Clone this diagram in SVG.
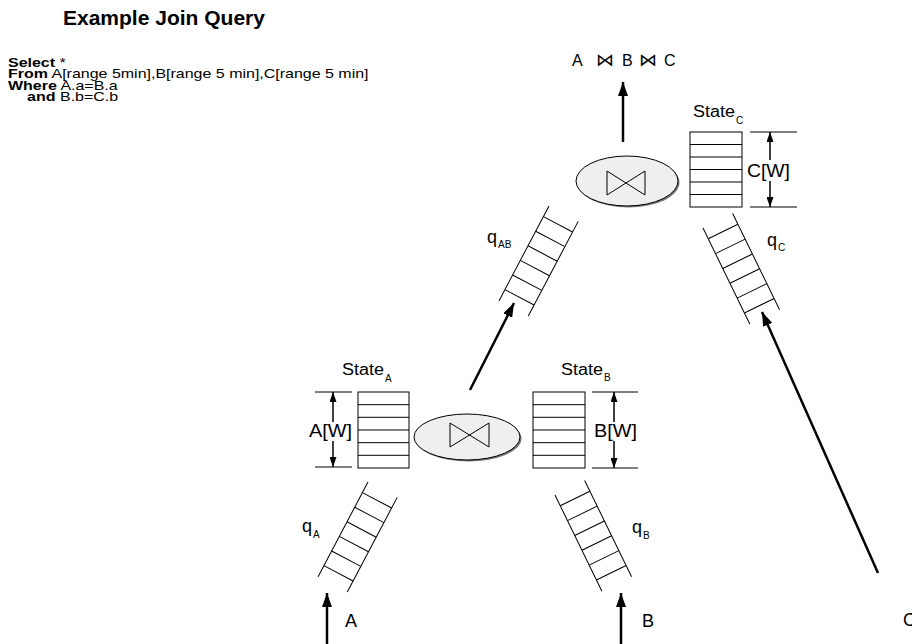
<svg xmlns="http://www.w3.org/2000/svg" width="912" height="644" viewBox="0 0 912 644">
<style>
text{font-family:"Liberation Sans",Arial,sans-serif;fill:#000}
.title{font-size:21px;font-weight:bold}
.q{font-size:12.8px}
.b{font-weight:bold}
.lbl{font-size:16px}
.big{font-size:18px}
.sub{font-size:10px}
.jn{font-family:"DejaVu Sans",sans-serif;font-size:18px}
.rail{stroke:#000;stroke-width:1;fill:none}
.stack{fill:#fff;stroke:#000;stroke-width:1}
.op{fill:#efefef;stroke:#000;stroke-width:1}
.shadow{fill:#777;stroke:none}
.bow{fill:none;stroke:#000;stroke-width:1}
.arr{stroke:#000;stroke-width:2.5;fill:none;marker-end:url(#ah)}
.sarr{stroke:#000;stroke-width:1.5;fill:none;marker-end:url(#sah)}
.brk{stroke:#000;stroke-width:1}
</style>
<defs>
<marker id="ah" markerUnits="userSpaceOnUse" markerWidth="14" markerHeight="10" refX="14" refY="5" orient="auto" viewBox="0 0 14 10">
<path d="M0,0 L14,5 L0,10 Z" fill="#000"/>
</marker>
<marker id="sah" markerUnits="userSpaceOnUse" markerWidth="10" markerHeight="7" refX="10" refY="3.5" orient="auto" viewBox="0 0 10 7">
<path d="M0,0 L10,3.5 L0,7 Z" fill="#000"/>
</marker>
<g id="ladder">
<line class="rail" x1="0" y1="0" x2="0" y2="107"/>
<line class="rail" x1="33" y1="0" x2="33" y2="107"/>
<line class="rail" x1="0" y1="12" x2="33" y2="12"/>
<line class="rail" x1="0" y1="28.5" x2="33" y2="28.5"/>
<line class="rail" x1="0" y1="45" x2="33" y2="45"/>
<line class="rail" x1="0" y1="61.5" x2="33" y2="61.5"/>
<line class="rail" x1="0" y1="78" x2="33" y2="78"/>
<line class="rail" x1="0" y1="94.5" x2="33" y2="94.5"/>
</g>
</defs>

<g id="title"><text class="title" x="63" y="25">Example Join Query</text></g>

<g id="query" transform="translate(8,0) scale(1.25,1)">
<text class="q" x="0" y="67"><tspan class="b">Select</tspan> *</text>
<text class="q" x="0" y="78.5"><tspan class="b">From</tspan> A[range 5min],B[range 5 min],C[range 5 min]</text>
<text class="q" x="0" y="90"><tspan class="b">Where</tspan> A.a=B.a</text>
<text class="q" x="15.2" y="101.5"><tspan class="b">and</tspan></text>
<text class="q" x="41.6" y="101.5">B.b=C.b</text>
</g>

<g id="result">
<text class="lbl" x="572" y="66">A</text>
<text class="jn" x="596" y="66">⋈</text>
<text class="lbl" x="622" y="66">B</text>
<text class="jn" x="639" y="66">⋈</text>
<text class="lbl" x="664" y="66">C</text>
</g>

<g id="join-top">
<ellipse class="shadow" cx="628.5" cy="182.5" rx="51" ry="25"/>
<ellipse class="op" cx="627" cy="181" rx="51" ry="25"/>
<path class="bow" d="M607,171 L645,195 L645,171 L607,195 Z"/>
</g>

<g id="join-bottom">
<ellipse class="shadow" cx="468.5" cy="438.5" rx="53" ry="23"/>
<ellipse class="op" cx="467" cy="437" rx="53" ry="23"/>
<path class="bow" d="M450,423 L489,447 L489,423 L450,447 Z"/>
</g>

<g id="state-c">
<rect class="stack" x="690" y="132" width="52" height="75"/>
<path class="brk" d="M690,144.5H742M690,157H742M690,169.5H742M690,182H742M690,194.5H742"/>
<text class="lbl" x="693" y="117" textLength="42" lengthAdjust="spacingAndGlyphs">State</text>
<text class="sub" x="736" y="124">C</text>
<path class="brk" d="M750,132H797M750,207H797"/>
<line class="sarr" x1="770" y1="160" x2="770" y2="132"/>
<line class="sarr" x1="770" y1="181" x2="770" y2="207"/>
<text class="big" x="747" y="177" textLength="43" lengthAdjust="spacingAndGlyphs">C[W]</text>
</g>

<g id="state-a">
<rect class="stack" x="358" y="392" width="51" height="76"/>
<path class="brk" d="M358,404.7H409M358,417.3H409M358,430H409M358,442.7H409M358,455.3H409"/>
<text class="lbl" x="342" y="375" textLength="42" lengthAdjust="spacingAndGlyphs">State</text>
<text class="sub" x="385" y="382">A</text>
<path class="brk" d="M315,392H352M315,467H352"/>
<line class="sarr" x1="333" y1="422" x2="333" y2="392"/>
<line class="sarr" x1="333" y1="441" x2="333" y2="467"/>
<text class="big" x="309" y="437" textLength="43" lengthAdjust="spacingAndGlyphs">A[W]</text>
</g>

<g id="state-b">
<rect class="stack" x="533" y="392" width="52" height="76"/>
<path class="brk" d="M533,404.7H585M533,417.3H585M533,430H585M533,442.7H585M533,455.3H585"/>
<text class="lbl" x="561" y="375" textLength="42" lengthAdjust="spacingAndGlyphs">State</text>
<text class="sub" x="604" y="381">B</text>
<path class="brk" d="M592,392H638M592,468H638"/>
<line class="sarr" x1="614" y1="422" x2="614" y2="392"/>
<line class="sarr" x1="614" y1="441" x2="614" y2="468"/>
<text class="big" x="594" y="437" textLength="43" lengthAdjust="spacingAndGlyphs">B[W]</text>
</g>

<g id="queue-ab">
<use href="#ladder" transform="translate(549,206) rotate(27.8)"/>
<text class="big" x="487" y="243">q</text>
<text class="sub" x="498" y="248">AB</text>
</g>

<g id="queue-c">
<use href="#ladder" transform="translate(703,228) rotate(-26)"/>
<text class="big" x="767" y="246">q</text>
<text class="sub" x="778" y="251">C</text>
</g>

<g id="queue-a">
<use href="#ladder" transform="translate(368,482) rotate(27.8)"/>
<text class="big" x="302" y="532">q</text>
<text class="sub" x="313" y="538">A</text>
</g>

<g id="queue-b">
<use href="#ladder" transform="translate(555,495) rotate(-26)"/>
<text class="big" x="632" y="533">q</text>
<text class="sub" x="643" y="539">B</text>
</g>

<g id="inputs">
<text class="big" x="345" y="627">A</text>
<text class="big" x="642" y="627">B</text>
<text class="big" x="903" y="626">C</text>
</g>

<g id="connectors">
<line class="arr" x1="623" y1="142" x2="623" y2="82"/>
<line class="arr" x1="470" y1="390" x2="514" y2="303"/>
<line class="arr" x1="878" y1="573" x2="762" y2="312"/>
<line class="arr" x1="327" y1="644" x2="327" y2="593"/>
<line class="arr" x1="621" y1="644" x2="621" y2="593"/>
</g>
</svg>
